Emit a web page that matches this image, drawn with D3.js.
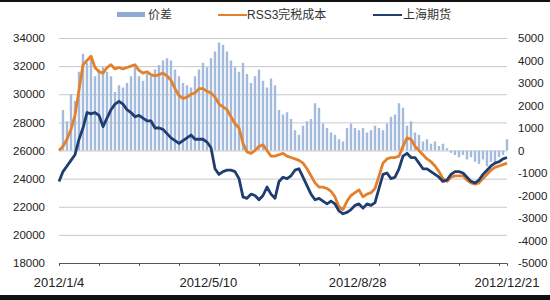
<!DOCTYPE html>
<html>
<head>
<meta charset="utf-8">
<script src="https://cdn.jsdelivr.net/npm/d3@7"></script>
<style>
  body { margin: 0; background: #fff; }
  text { font-family: "Liberation Sans", "Noto Sans CJK SC", sans-serif; }
</style>
</head>
<body>
<div class="chart"></div>
<script>
// series, one value per step along the date axis
var xLabels = ["2012/1/4", "2012/5/10", "2012/8/28", "2012/12/21"];

var rssCost = [
  26000, 26300, 26800, 27500, 28500, 30300, 32100, 32400, 32700, 31900,
  31600, 31500, 31900, 32100, 31800, 31900, 31800, 31900, 32000, 32100,
  31700, 31500, 31600, 31400, 31300, 31400, 31500, 31300, 31000, 30400,
  29900, 29700, 29800, 30000, 30100, 30400, 30400, 30200, 30100, 29800,
  29300, 29100, 28900, 28400, 27900, 27600, 26500, 25900, 25800, 26000,
  26300, 26400, 26000, 25600, 25600, 25700, 25800, 25600, 25500, 25400,
  25300, 25100, 24700, 24200, 23700, 23400, 23400, 23300, 23100, 22700,
  22000, 21800, 22400, 22800, 23000, 23200, 22700, 22900, 23000, 23300,
  24200, 25100, 25400, 25500, 25500, 25600, 26300, 26900, 26800, 26300,
  26000, 25700, 25400, 25200, 24900, 24500, 24000, 23800, 24100, 24200,
  24200, 24200, 23900, 23700, 23600, 23700, 24000, 24300, 24600, 24800,
  24900, 25000, 25100
];

var shfe = [
  23800, 24500, 24900, 25300, 25700, 26800, 27600, 28700, 28600, 28700,
  28500, 27700, 28300, 28900, 29300, 29500, 29300, 28900, 28700, 28400,
  28500, 28300, 28100, 28100, 27600, 27600, 27500, 27200, 26900, 26700,
  26500, 26700, 26900, 27100, 26800, 26800, 26800, 26600, 26200, 24700,
  24300, 24500, 24600, 24600, 24500, 24000, 22700, 22600, 22900, 22800,
  22500, 22800, 23400, 22900, 22600, 23800, 24100, 24000, 24200, 24600,
  24700, 24100, 23500, 22900, 22500, 22600, 22400, 22200, 22400, 22200,
  21700, 21500, 21600, 21800, 22100, 22200, 21900, 22200, 22100, 22300,
  23300, 24300, 24400, 24000, 24100, 24700, 25600, 25800, 25500, 25500,
  25100, 24700, 24700, 24500, 24300, 24100, 23800, 23900, 24300, 24500,
  24500, 24400, 24100, 23800, 23700, 23900, 24300, 24600, 24900, 25100,
  25200, 25400, 25500
];

var spread = [
  0, 1800, 1300, 2500, 2200, 3500, 4300, 3900, 4100, 3300,
  3600, 3700, 3500, 3300, 2600, 2900, 2800, 3000, 3300, 3700,
  3300, 3100, 3400, 3300, 3600, 3800, 4000, 4100, 4000, 3600,
  3300, 3000, 2900, 2800, 3300, 3600, 3900, 3700, 4100, 4400,
  4800, 4700, 4400, 4000, 3700, 3500, 3900, 3400, 3000, 3300,
  3600, 3100, 2800, 3200, 2900, 1800, 1600, 1700, 1400, 900,
  700, 1100, 1300, 1400, 2100, 1900, 1200, 1000, 800, 700,
  500, 400, 1000, 1200, 1000, 900, 1000, 800, 900, 1100,
  1000, 900, 1200, 1500, 1600, 2100, 1900, 1100, 1300, 800,
  700, 400, 500, 300, 400, 200, 300, 100, -100, -200,
  -300, -200, -400, -300, -500, -600, -400, -700, -500, -600,
  -300, -200, 500
];

var svgWidth = 550;
var svgHeight = 300;
var margin = { top: 38, right: 43, bottom: 37, left: 59 };
var width = svgWidth - margin.left - margin.right;
var height = svgHeight - margin.top - margin.bottom;

var svg = d3.select(".chart")
  .append("svg")
  .attr("width", svgWidth)
  .attr("height", svgHeight);

// dark frame edges seen in the picture
svg.append("rect").attr("x", 0).attr("y", 0).attr("width", svgWidth).attr("height", 2).attr("fill", "#111");
svg.append("rect").attr("x", 0).attr("y", 295).attr("width", svgWidth).attr("height", 5).attr("fill", "#111");

var chartGroup = svg.append("g")
  .attr("transform", `translate(${margin.left}, ${margin.top})`);

var n = rssCost.length;
var xScale = d3.scaleLinear().domain([0, n - 1]).range([0, width]);
var yLeft = d3.scaleLinear().domain([18000, 34000]).range([height, 0]);
var yRight = d3.scaleLinear().domain([-5000, 5000]).range([height, 0]);

// gridlines from the left axis
chartGroup.append("g")
  .attr("class", "grid")
  .call(d3.axisLeft(yLeft).tickValues(d3.range(20000, 34001, 2000)).tickSize(-width).tickFormat(""))
  .call(g => g.select(".domain").remove())
  .call(g => g.selectAll("line").attr("stroke", "#c9c9c9").attr("stroke-width", 1));

// spread bars on the right axis
var barW = 2.4;
chartGroup.selectAll(".bar")
  .data(spread)
  .enter()
  .append("rect")
  .attr("class", "bar")
  .attr("x", (d, i) => xScale(i) - barW / 2)
  .attr("y", d => yRight(Math.max(0, d)))
  .attr("width", barW)
  .attr("height", d => Math.abs(yRight(d) - yRight(0)))
  .attr("fill", "#a4bbdd");

// lines
var costLine = d3.line().x((d, i) => xScale(i)).y(d => yLeft(d));

chartGroup.append("path")
  .datum(rssCost)
  .attr("d", costLine)
  .attr("fill", "none")
  .attr("stroke", "#e4802c")
  .attr("stroke-width", 2.8)
  .attr("stroke-linejoin", "round");

chartGroup.append("path")
  .datum(shfe)
  .attr("d", costLine)
  .attr("fill", "none")
  .attr("stroke", "#1f3d70")
  .attr("stroke-width", 2.8)
  .attr("stroke-linejoin", "round");

// x axis
var tickIdx = d3.range(0, n, 10);
var bottomAxis = d3.axisBottom(xScale).tickValues(tickIdx).tickSize(3).tickFormat("");
chartGroup.append("g")
  .attr("transform", `translate(0,${height})`)
  .call(bottomAxis)
  .call(g => g.selectAll("path, line").attr("stroke", "#555"));

chartGroup.selectAll(".xlab")
  .data(xLabels)
  .enter()
  .append("text")
  .attr("class", "xlab")
  .attr("x", (d, i) => xScale(i * (n - 1) / (xLabels.length - 1)))
  .attr("y", height + 24)
  .attr("text-anchor", "middle")
  .style("font-size", "13px")
  .style("fill", "#222")
  .text(d => d);

// left axis labels
chartGroup.append("g")
  .call(d3.axisLeft(yLeft).tickValues(d3.range(18000, 34001, 2000)).tickSize(0).tickPadding(14).tickFormat(d => String(d)))
  .call(g => g.select(".domain").remove())
  .call(g => g.selectAll("text").style("font-size", "11.5px").style("fill", "#222"));

// right axis labels
chartGroup.append("g")
  .attr("transform", `translate(${width},0)`)
  .call(d3.axisRight(yRight).tickValues(d3.range(-5000, 5001, 1000)).tickSize(0).tickPadding(11).tickFormat(d => String(d)))
  .call(g => g.select(".domain").remove())
  .call(g => g.selectAll("text").style("font-size", "11.5px").style("fill", "#222"));

// legend
var legend = svg.append("g").attr("class", "legend");
legend.append("rect").attr("x", 117).attr("y", 12).attr("width", 28).attr("height", 5).attr("fill", "#8fa9d2");
legend.append("text").attr("x", 148).attr("y", 19).style("font-size", "12px").style("fill", "#333").text("价差");
legend.append("line").attr("x1", 218).attr("x2", 247).attr("y1", 15).attr("y2", 15).attr("stroke", "#e4802c").attr("stroke-width", 2);
legend.append("text").attr("x", 247).attr("y", 19).style("font-size", "12px").style("fill", "#333").text("RSS3完税成本");
legend.append("line").attr("x1", 373).attr("x2", 402).attr("y1", 15).attr("y2", 15).attr("stroke", "#1f3d70").attr("stroke-width", 2);
legend.append("text").attr("x", 403).attr("y", 19).style("font-size", "12px").style("fill", "#333").text("上海期货");
</script>
</body>
</html>
